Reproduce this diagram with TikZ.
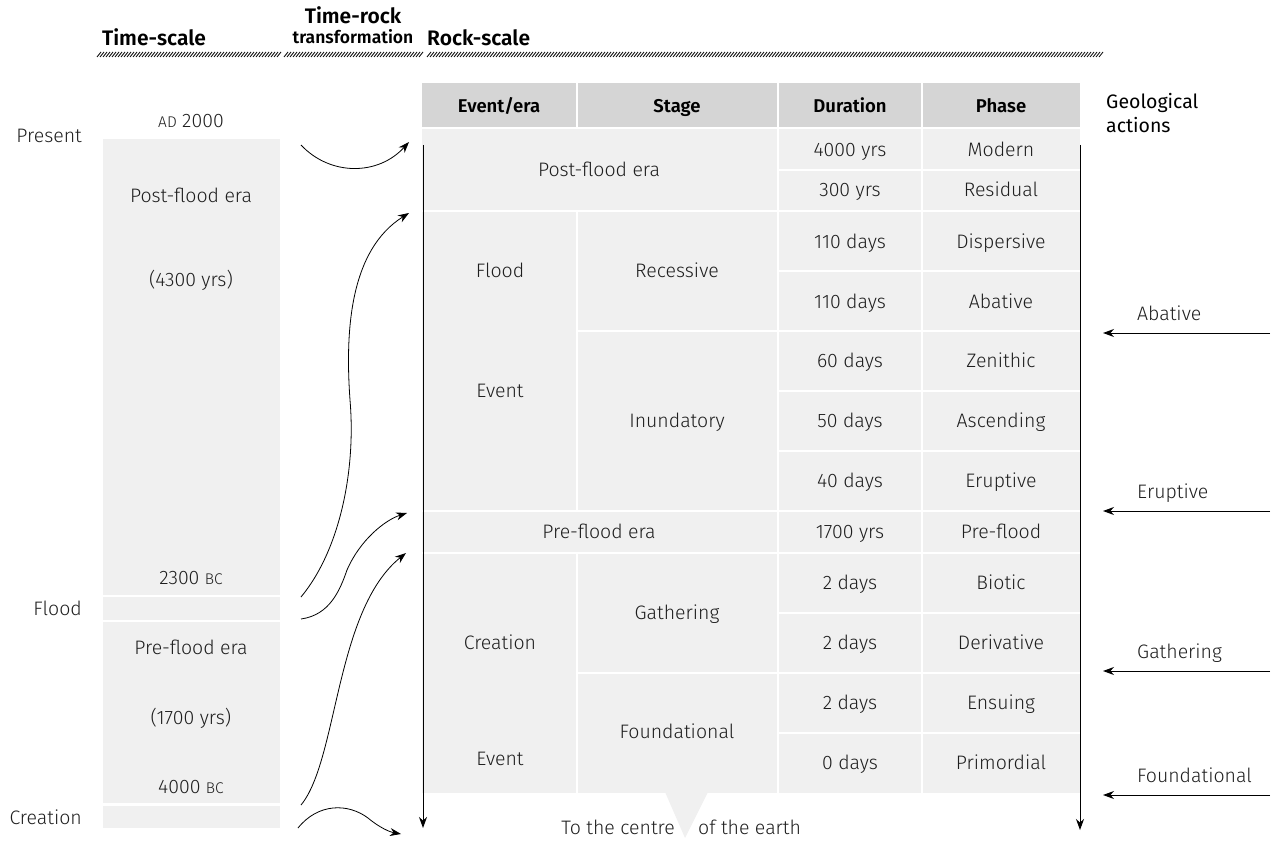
\documentclass[tikz,border=0pt]{standalone}
\usepackage{fontspec}
\setmainfont{Fira Sans}[UprightFont={* Light}, BoldFont={* SemiBold}]
\newfontfamily\regfont{Fira Sans}
\usetikzlibrary{arrows.meta}
\definecolor{cellgray}{HTML}{F0F0F0}
\definecolor{headgray}{HTML}{D5D5D5}
\definecolor{txtc}{HTML}{1E1E1E}
\begin{document}
\begin{tikzpicture}[x=1pt,y=-1pt,
  lbl/.style={font=\fontsize{19.5}{22}\selectfont, text=txtc, inner sep=0pt, text height=13.4pt, text depth=0pt},
  hd/.style={font=\fontsize{18.5}{21}\selectfont\bfseries, text=black, inner sep=0pt, text height=12.8pt, text depth=0pt},
  ttl/.style={font=\fontsize{21}{23}\selectfont\bfseries, text=black, inner sep=0pt, text height=14.5pt, text depth=0pt},
  sep/.style={draw=white, line width=2pt},
  hatch/.style={line width=0.8pt, black},
  arr/.style={line width=0.9pt, -{Stealth[length=11pt,width=8pt]}},
  cur/.style={line width=0.8pt, -{Stealth[length=11pt,width=8pt]}}]
\useasboundingbox (0,0) rectangle (1271,842);

% ---------- titles ----------
\node[ttl] (tscale) at (154,38) {Time-scale};
\node[ttl] (trock) at (353,16) {Time-rock};
\node[ttl, font=\fontsize{17.5}{19}\selectfont\bfseries, text height=12pt] (trans) at (353,38) {transformation};
\node[ttl, anchor=west] (rscale) at (427,38) {Rock-scale};
\foreach \x in {97,100,...,277} \draw[hatch] (\x,57) -- (\x+4,52);
\foreach \x in {284,287,...,419} \draw[hatch] (\x,57) -- (\x+4,52);
\foreach \x in {427,430,...,1100} \draw[hatch] (\x,57) -- (\x+4,52);

% ---------- time-scale column ----------
\fill[cellgray] (103,139) rectangle (280,595);
\fill[cellgray] (103,597) rectangle (280,620);
\fill[cellgray] (103,622) rectangle (280,803);
\fill[cellgray] (103,806) rectangle (280,828);
\node[lbl] (ad) at (191,121) {{\fontsize{15.5}{16}\selectfont AD} 2000};
\node[lbl] (postera) at (191,196) {Post-flood era};
\node[lbl] (post43) at (191,280) {(4300 yrs)};
\node[lbl] (bc2300) at (191,578) {2300 {\fontsize{15.5}{16}\selectfont BC}};
\node[lbl] (preera) at (191,648) {Pre-flood era};
\node[lbl] (pre17) at (191,718) {(1700 yrs)};
\node[lbl] (bc4000) at (191,787) {4000 {\fontsize{15.5}{16}\selectfont BC}};
\node[lbl, anchor=east] (present) at (82,136) {Present};
\node[lbl, anchor=east] (flood) at (82,609) {Flood};
\node[lbl, anchor=east] (creation) at (82,818) {Creation};

% ---------- rock-scale table ----------
\fill[headgray] (422,83) rectangle (1080,128);
\fill[cellgray] (422,128) rectangle (1080,793);
% vertical separators
\draw[sep] (577,83) -- (577,129);
\draw[sep] (577,211) -- (577,511);
\draw[sep] (577,553) -- (577,793);
\draw[sep] (778,83) -- (778,793);
\draw[sep] (922,83) -- (922,793);
% horizontal separators
\draw[sep] (422,128) -- (1080,128);
\draw[sep] (778,170) -- (1080,170);
\draw[sep] (422,211) -- (1080,211);
\draw[sep] (778,271) -- (1080,271);
\draw[sep] (577,331) -- (1080,331);
\draw[sep] (778,391) -- (1080,391);
\draw[sep] (778,451) -- (1080,451);
\draw[sep] (422,511) -- (1080,511);
\draw[sep] (422,553) -- (1080,553);
\draw[sep] (778,613) -- (1080,613);
\draw[sep] (577,673) -- (1080,673);
\draw[sep] (778,733) -- (1080,733);

\node[hd] (hev) at (499,106) {Event/era};
\node[hd] (hst) at (677,106) {Stage};
\node[hd] (hdu) at (850,106) {Duration};
\node[hd] (hph) at (1001,106) {Phase};

\node[lbl] (r0) at (599,170) {Post-flood era};
\node[lbl] (d1) at (850,150) {4000 yrs};   \node[lbl] (p1) at (1001,150) {Modern};
\node[lbl] (d2) at (850,190) {300 yrs};    \node[lbl] (p2) at (1001,190) {Residual};
\node[lbl] (e1) at (500,271) {Flood};      \node[lbl] (s1) at (677,271) {Recessive};
\node[lbl] (d3) at (850,242) {110 days};   \node[lbl] (p3) at (1001,242) {Dispersive};
\node[lbl] (d4) at (850,302) {110 days};   \node[lbl] (p4) at (1001,302) {Abative};
\node[lbl] (e2) at (500,391) {Event};      \node[lbl] (s2) at (677,421) {Inundatory};
\node[lbl] (d5) at (850,361) {60 days};    \node[lbl] (p5) at (1001,361) {Zenithic};
\node[lbl] (d6) at (850,421) {50 days};    \node[lbl] (p6) at (1001,421) {Ascending};
\node[lbl] (d7) at (850,481) {40 days};    \node[lbl] (p7) at (1001,481) {Eruptive};
\node[lbl] (r1) at (599,532) {Pre-flood era};
\node[lbl] (d8) at (850,532) {1700 yrs};   \node[lbl] (p8) at (1001,532) {Pre-flood};
\node[lbl] (e3) at (500,643) {Creation};   \node[lbl] (s3) at (677,613) {Gathering};
\node[lbl] (e4) at (500,759) {Event};      \node[lbl] (s4) at (677,732) {Foundational};
\node[lbl] (d9) at (850,583) {2 days};     \node[lbl] (p9) at (1001,583) {Biotic};
\node[lbl] (d10) at (850,643) {2 days};    \node[lbl] (p10) at (1001,643) {Derivative};
\node[lbl] (d11) at (850,703) {2 days};    \node[lbl] (p11) at (1001,703) {Ensuing};
\node[lbl] (d12) at (850,763) {0 days};    \node[lbl] (p12) at (1001,763) {Primordial};

\node[lbl, anchor=east] (centre1) at (675,828) {To the centre};
\node[lbl, anchor=west] (centre2) at (698,828) {of the earth};
\fill[cellgray] (665,792) -- (708,792) -- (685,838) -- cycle;

% table-side arrows
\coordinate (lt) at (423,145); \coordinate (lb) at (423,828);
\coordinate (rt) at (1080,145); \coordinate (rb) at (1080,830);
\draw[arr] (lt) -- (lb);
\draw[arr] (rt) -- (rb);

% ---------- geological actions ----------
\node[inner sep=0pt, anchor=west, align=left, font=\regfont\fontsize{19.5}{24}\selectfont] (geo) at (1106,113) {Geological\\actions};
\foreach \n/\y/\t in {a/333/Abative, b/511/Eruptive, c/671/Gathering, d/795/Foundational}{
  \coordinate (g\n s) at (1270,\y);
  \coordinate (g\n e) at (1103,\y);
  \draw[arr] (g\n s) -- (g\n e);
  \node[lbl, anchor=west] (gl\n) at (1137,\y-19) {\t};
}

% ---------- transformation curves ----------
\coordinate (c1s) at (301,145); \coordinate (c1e) at (409,142);
\coordinate (c2s) at (301,597); \coordinate (c2e) at (409,213);
\coordinate (c3s) at (301,619); \coordinate (c3e) at (407,513);
\coordinate (c4s) at (301,805); \coordinate (c4e) at (406,553);
\coordinate (c5s) at (298,828); \coordinate (c5e) at (401,834);
\draw[cur] (c1s) .. controls (330,176) and (378,176) .. (c1e);
\draw[cur] (c2s) .. controls (340,550) and (356,470) .. (350,400)
                 .. controls (345,330) and (350,250) .. (c2e);
\draw[cur] (c3s) .. controls (330,615) and (340,590) .. (347,570)
                 .. controls (360,540) and (385,520) .. (c3e);
\draw[cur] (c4s) .. controls (338,760) and (335,610) .. (c4e);
\draw[cur] (c5s) .. controls (318,803) and (348,803) .. (368,818)
                 .. controls (380,828) and (390,832) .. (c5e);
\end{tikzpicture}
\end{document}
